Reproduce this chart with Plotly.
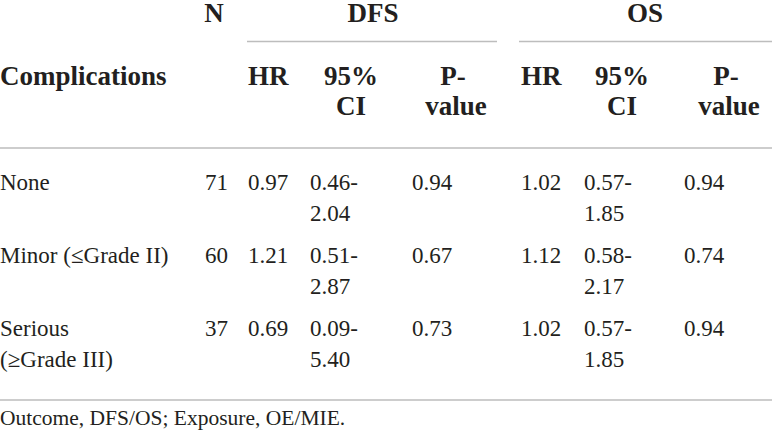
import plotly.graph_objects as go

# table data
complications = ["None", "Minor (≤Grade II)", "Serious"]
complications_2nd = ["", "", "(≥Grade III)"]
n_patients = [71, 60, 37]
dfs_hr = [0.97, 1.21, 0.69]
dfs_ci_low = [0.46, 0.51, 0.09]
dfs_ci_high = [2.04, 2.87, 5.40]
dfs_p = [0.94, 0.67, 0.73]
os_hr = [1.02, 1.12, 1.02]
os_ci_low = [0.57, 0.58, 0.57]
os_ci_high = [1.85, 2.17, 1.85]
os_p = [0.94, 0.74, 0.94]
footnote = "Outcome, DFS/OS; Exposure, OE/MIE."

# layout (pixels on a 772 x 437 canvas)
W, H = 772, 437
FONT = "Liberation Serif"
TXT = "#231f20"
RULE = "#bdbdbd"
BODY = 23
HEAD = 27
row_y = [184, 257, 330]
line_gap = 31
col_x = {"comp": 0, "n": 205, "dhr": 248, "dci": 310, "dp": 412,
         "ohr": 521, "oci": 584, "op": 684}

fig = go.Figure()


def add_text(xs, ys, texts, size=BODY, bold=False, pos="middle right"):
    fig.add_trace(go.Scatter(
        x=xs, y=ys, text=texts, mode="text", textposition=pos,
        textfont=dict(family=FONT, size=size, color=TXT,
                      weight="bold" if bold else "normal"),
        cliponaxis=False, hoverinfo="skip", showlegend=False,
    ))


# header
add_text([214, 373, 645], [15, 15, 15], ["N", "DFS", "OS"], HEAD, True, "middle center")
add_text([col_x["comp"], col_x["dhr"], col_x["ohr"]], [78, 78, 78],
         ["Complications", "HR", "HR"], HEAD, True)
add_text([351, 453, 622, 726], [78] * 4, ["95%", "P-", "95%", "P-"], HEAD, True, "middle center")
add_text([351, 456, 622, 729], [108] * 4, ["CI", "value", "CI", "value"], HEAD, True, "middle center")

# body, first lines
add_text([col_x["comp"]] * 3, row_y, complications)
add_text([col_x["n"]] * 3, row_y, [str(v) for v in n_patients])
add_text([col_x["dhr"]] * 3, row_y, [f"{v:.2f}" for v in dfs_hr])
add_text([col_x["dci"]] * 3, row_y, [f"{v:.2f}-" for v in dfs_ci_low])
add_text([col_x["dp"]] * 3, row_y, [f"{v:.2f}" for v in dfs_p])
add_text([col_x["ohr"]] * 3, row_y, [f"{v:.2f}" for v in os_hr])
add_text([col_x["oci"]] * 3, row_y, [f"{v:.2f}-" for v in os_ci_low])
add_text([col_x["op"]] * 3, row_y, [f"{v:.2f}" for v in os_p])

# body, wrapped second lines
row_y2 = [y + line_gap for y in row_y]
add_text([col_x["comp"]] * 3, row_y2, complications_2nd)
add_text([col_x["dci"]] * 3, row_y2, [f"{v:.2f}" for v in dfs_ci_high])
add_text([col_x["oci"]] * 3, row_y2, [f"{v:.2f}" for v in os_ci_high])

add_text([0], [420], [footnote], 21.5)

# rules
for x0, x1, y in [(247, 497, 41.5), (519, W, 41.5), (0, W, 148), (0, W, 400)]:
    fig.add_shape(type="line", x0=x0, x1=x1, y0=y, y1=y, xref="x", yref="y",
                  line=dict(color=RULE, width=1.5))

fig.update_layout(
    width=W, height=H,
    margin=dict(l=0, r=0, t=0, b=0),
    paper_bgcolor="white", plot_bgcolor="white",
    xaxis=dict(range=[0, W], visible=False, fixedrange=True),
    yaxis=dict(range=[H, 0], visible=False, fixedrange=True),
)

# drop the browser's default body margin so the table sits at the corner
fig.write_html("out.html", config={"displayModeBar": False},
               post_script="document.body.style.margin='0';")
